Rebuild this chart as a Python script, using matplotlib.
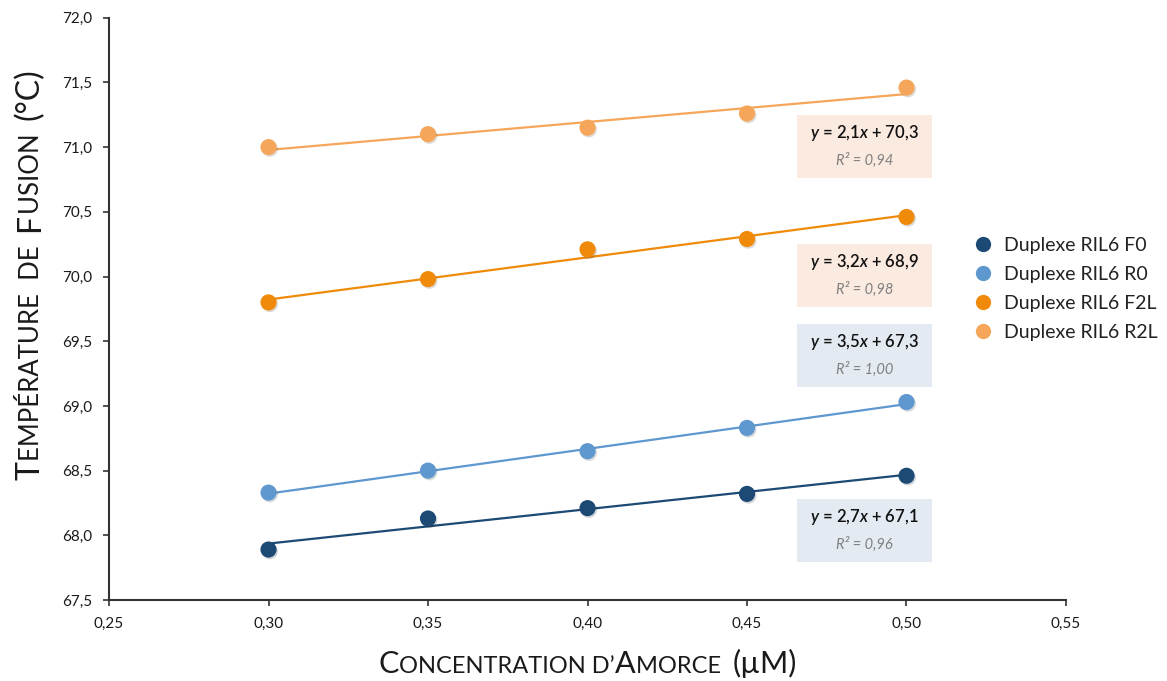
import numpy as np
import matplotlib
matplotlib.use("Agg")
import matplotlib.pyplot as plt
import matplotlib.patheffects as pe
from matplotlib.lines import Line2D
from matplotlib.patches import Rectangle
from matplotlib.ticker import FuncFormatter, MultipleLocator

FONT = "Lato"
plt.rcParams['font.family'] = [FONT, 'DejaVu Sans']
plt.rcParams['mathtext.fontset'] = 'custom'
plt.rcParams['mathtext.it'] = 'Lato:italic:semibold'
plt.rcParams['mathtext.rm'] = 'Lato:semibold'

# données
concentration = [0.30, 0.35, 0.40, 0.45, 0.50]
tm_F0 = [67.89, 68.13, 68.21, 68.32, 68.46]
tm_R0 = [68.33, 68.50, 68.65, 68.83, 69.03]
tm_F2L = [69.80, 69.98, 70.21, 70.29, 70.46]
tm_R2L = [71.00, 71.10, 71.15, 71.26, 71.46]

series = ["Duplexe RIL6 F0", "Duplexe RIL6 R0", "Duplexe RIL6 F2L", "Duplexe RIL6 R2L"]
couleurs = ["#1c4a74", "#5f97cf", "#ef8a0a", "#f6a65a"]
equations = ["2,7$x$ + 67,1", "3,5$x$ + 67,3", "3,2$x$ + 68,9", "2,1$x$ + 70,3"]
r2 = ["0,96", "1,00", "0,98", "0,94"]
fond_boites = ["#e3eaf1", "#e3eaf1", "#fbeadf", "#fbeadf"]
boite_bas = [0.065, 0.366, 0.503, 0.725]  # position des étiquettes (axes)

W, H = 1167, 681
fig = plt.figure(figsize=(W / 100, H / 100), dpi=100)
ax = fig.add_axes([109 / W, 81 / H, 957 / W, 582.3 / H])

x = np.array(concentration)
for tm, c in zip([tm_F0, tm_R0, tm_F2L, tm_R2L], couleurs):
    a, b = np.polyfit(x, tm, 1)
    ax.plot(x[[0, -1]], a * x[[0, -1]] + b, color=c, lw=1.6, zorder=2)
    ax.scatter(x, tm, s=135, color=c, zorder=3, linewidths=0,
               path_effects=[pe.SimplePatchShadow(offset=(1, -1.2), alpha=0.18),
                             pe.Normal()])

# étiquettes des équations
for eq, r, fc, yb in zip(equations, r2, fond_boites, boite_bas):
    ax.add_patch(Rectangle((0.719, yb), 0.141, 0.108, transform=ax.transAxes,
                           facecolor=fc, edgecolor="none", zorder=1))
    ax.text(0.7895, yb + 0.077, "$y$ = " + eq, transform=ax.transAxes,
            ha="center", va="center", fontsize=12, fontweight="semibold",
            color="#111111", zorder=4)
    ax.text(0.7895, yb + 0.030, "R² = " + r, transform=ax.transAxes,
            ha="center", va="center", fontsize=10.5, style="italic",
            color="#808080", zorder=4)

ax.set_xlim(0.25, 0.55)
ax.set_ylim(67.5, 72.0)
ax.xaxis.set_major_locator(MultipleLocator(0.05))
ax.yaxis.set_major_locator(MultipleLocator(0.5))
ax.xaxis.set_major_formatter(FuncFormatter(lambda v, p: f"{v:.2f}".replace(".", ",")))
ax.yaxis.set_major_formatter(FuncFormatter(lambda v, p: f"{v:.1f}".replace(".", ",")))
for s in ["top", "right"]:
    ax.spines[s].set_visible(False)
for s in ["left", "bottom"]:
    ax.spines[s].set_color("#333333")
    ax.spines[s].set_linewidth(1.5)
ax.tick_params(axis="both", direction="out", length=4, width=1.2,
               color="#333333", labelsize=11, labelcolor="#1a1a1a", pad=8)

# légende
poignees = [Line2D([], [], ls="none", marker="o", ms=11, color=c, mec="none")
            for c in couleurs]
fig.legend(poignees, series, loc="center left", frameon=False,
           bbox_to_anchor=(973 / W, (H - 289) / H), borderpad=0, borderaxespad=0,
           fontsize=14, handlelength=1.0, handletextpad=0.6, labelspacing=0.62,
           labelcolor="#222222")


# petites capitales pour les titres des axes
def petites_capitales(parts, xc, yc, rotation=0):
    r = fig.canvas.get_renderer()

    def largeur(s, size):
        t1 = fig.text(0, 0, "|" + s + "|", fontsize=size)
        t2 = fig.text(0, 0, "||", fontsize=size)
        w = t1.get_window_extent(r).width - t2.get_window_extent(r).width
        t1.remove()
        t2.remove()
        return w

    lens = [largeur(s, size) for s, size in parts]
    pos = -sum(lens) / 2
    for (s, size), L in zip(parts, lens):
        if rotation == 0:
            px, py = xc + pos, yc
        else:
            px, py = xc, yc + pos
        fig.text(px / W, py / H, s, fontsize=size, ha="left", va="baseline",
                 rotation=rotation, rotation_mode="anchor", color="#1a1a1a")
        pos += L


petites_capitales([("C", 22), ("ONCENTRATION D’", 17), ("A", 22), ("MORCE  ", 17), ("(µM)", 22)],
                  588, H - 673)
petites_capitales([("T", 23), ("EMPÉRATURE  DE  ", 18.5), ("F", 23), ("USION  ", 18.5), ("(°C)", 23)],
                  39, H - 274, rotation=90)

fig.savefig("out.png", dpi=100)
